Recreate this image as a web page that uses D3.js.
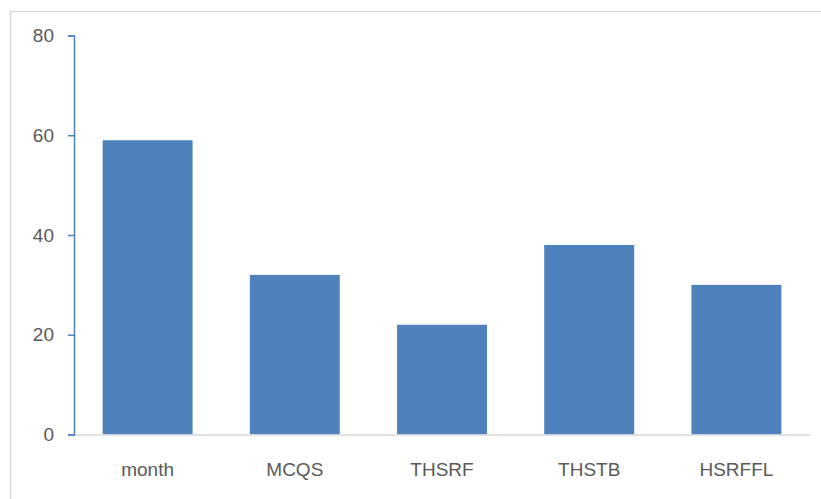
<!DOCTYPE html>
<html>
<head>
<meta charset="utf-8">
<script src="https://cdn.jsdelivr.net/npm/d3@7"></script>
<style>
  html, body { margin: 0; padding: 0; background: #fff; }
  svg { display: block; }
  text { font-family: "Liberation Sans", Arial, sans-serif; fill: #595959; }
</style>
</head>
<body>
<svg id="chart" width="821" height="499"></svg>
<script>
// Chart data
const categories = ["month", "MCQS", "THSRF", "THSTB", "HSRFFL"];
const values = [59, 32, 22, 38, 30];
const yTicks = [0, 20, 40, 60, 80];

const width = 821, height = 499;
const plot = { left: 74, right: 810, top: 35.5, bottom: 434.5 };

const svg = d3.select("#chart");

// Outer chart frame
svg.append("rect")
  .attr("x", 10.5).attr("y", 11.5)
  .attr("width", 830).attr("height", 510)
  .attr("fill", "none")
  .attr("stroke", "#d9d9d9")
  .attr("stroke-width", 1.5);

const x = d3.scaleBand()
  .domain(categories)
  .range([plot.left, plot.right])
  .paddingInner(0.389)
  .paddingOuter(0.1945);

const y = d3.scaleLinear()
  .domain([0, 80])
  .range([plot.bottom, plot.top]);

// Bars
svg.append("g").selectAll("rect")
  .data(categories.map((c, i) => ({ c, v: values[i] })))
  .join("rect")
  .attr("x", d => x(d.c))
  .attr("y", d => y(d.v))
  .attr("width", x.bandwidth())
  .attr("height", d => y(0) - y(d.v))
  .attr("fill", "#4f81bd");

// Category axis (baseline)
const xAxis = svg.append("g")
  .attr("transform", `translate(0,${plot.bottom})`)
  .call(d3.axisBottom(x).tickSize(0).tickPadding(0));
xAxis.select(".domain").attr("stroke", "#d9d9d9").attr("stroke-width", 1.5);
xAxis.selectAll("text")
  .attr("dy", null)
  .attr("y", 41)
  .style("font-size", "19px")
  .style("fill", "#595959");

// Value axis
const yAxis = svg.append("g")
  .attr("transform", `translate(${plot.left},0)`)
  .call(d3.axisLeft(y).tickValues(yTicks).tickSize(6).tickPadding(14).tickSizeOuter(6));
yAxis.select(".domain").attr("stroke", "#4f81bd").attr("stroke-width", 1.5);
yAxis.selectAll(".tick line").attr("stroke", "#4f81bd").attr("stroke-width", 1.5);
yAxis.selectAll("text")
  .style("font-size", "19px")
  .style("fill", "#595959");
</script>
</body>
</html>
